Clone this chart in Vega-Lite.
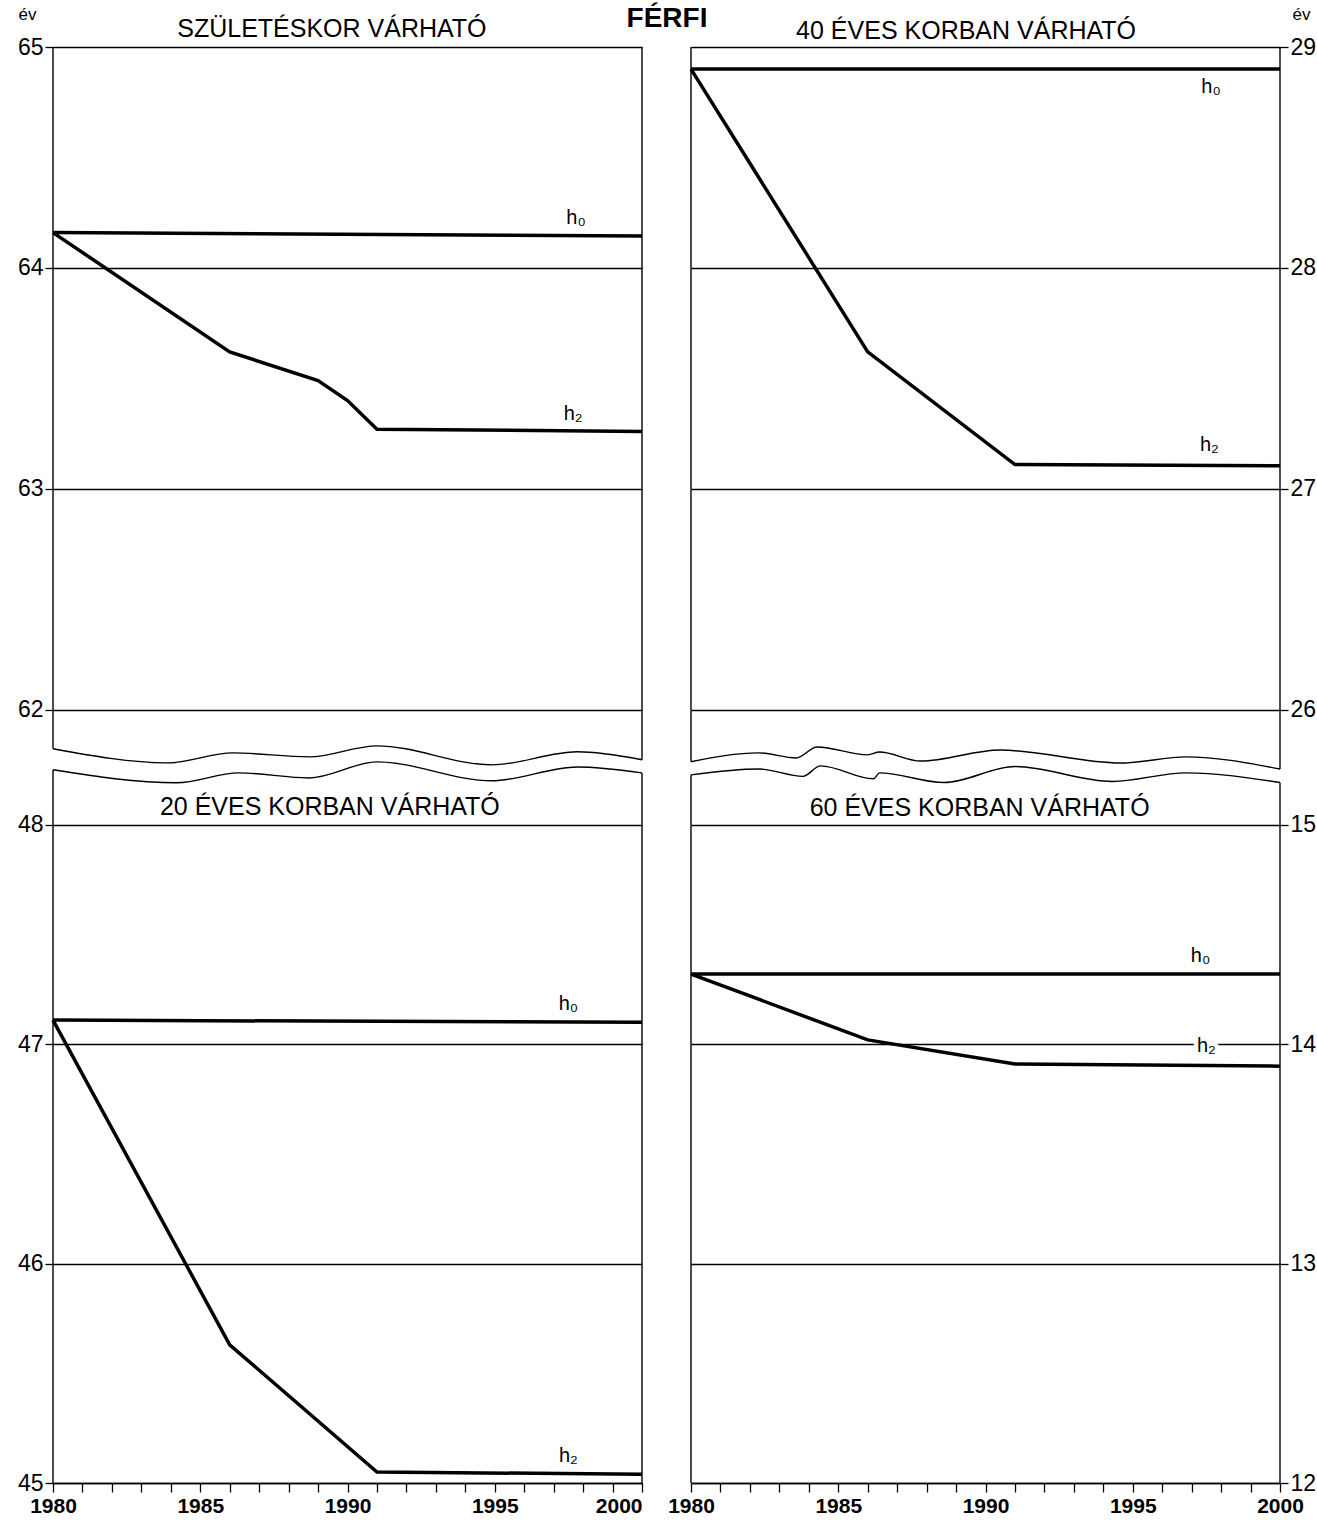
{
  "$schema": "https://vega.github.io/schema/vega-lite/v6.json",
  "background": "white",
  "padding": {"left": 17, "right": 0, "top": 5, "bottom": 5},
  "config": {
    "font": "Liberation Sans",
    "view": {"stroke": null},
    "axis": {"labelColor": "black", "tickColor": "black", "titleColor": "black", "labelFont": "Liberation Sans", "titleFont": "Liberation Sans"},
    "text": {"font": "Liberation Sans", "color": "black"}
  },
  "datasets": {
    "series": [
      {"panel": "TL", "series": "h0", "year": 1980, "value": 64.16},
      {"panel": "TL", "series": "h0", "year": 2000, "value": 64.145},
      {"panel": "TL", "series": "h2", "year": 1980, "value": 64.16},
      {"panel": "TL", "series": "h2", "year": 1986, "value": 63.62},
      {"panel": "TL", "series": "h2", "year": 1989, "value": 63.49},
      {"panel": "TL", "series": "h2", "year": 1990, "value": 63.4},
      {"panel": "TL", "series": "h2", "year": 1991, "value": 63.27},
      {"panel": "TL", "series": "h2", "year": 2000, "value": 63.26},
      {"panel": "TR", "series": "h0", "year": 1980, "value": 28.9},
      {"panel": "TR", "series": "h0", "year": 2000, "value": 28.9},
      {"panel": "TR", "series": "h2", "year": 1980, "value": 28.9},
      {"panel": "TR", "series": "h2", "year": 1986, "value": 27.62},
      {"panel": "TR", "series": "h2", "year": 1991, "value": 27.11},
      {"panel": "TR", "series": "h2", "year": 2000, "value": 27.105},
      {"panel": "BL", "series": "h0", "year": 1980, "value": 47.11},
      {"panel": "BL", "series": "h0", "year": 2000, "value": 47.1},
      {"panel": "BL", "series": "h2", "year": 1980, "value": 47.11},
      {"panel": "BL", "series": "h2", "year": 1986, "value": 45.63},
      {"panel": "BL", "series": "h2", "year": 1991, "value": 45.05},
      {"panel": "BL", "series": "h2", "year": 2000, "value": 45.04},
      {"panel": "BR", "series": "h0", "year": 1980, "value": 14.32},
      {"panel": "BR", "series": "h0", "year": 2000, "value": 14.32},
      {"panel": "BR", "series": "h2", "year": 1980, "value": 14.32},
      {"panel": "BR", "series": "h2", "year": 1986, "value": 14.02},
      {"panel": "BR", "series": "h2", "year": 1991, "value": 13.91},
      {"panel": "BR", "series": "h2", "year": 2000, "value": 13.9}
    ],
    "waves": [
      {"panel": "TL", "year": 1980, "value": 61.824},
      {"panel": "TL", "year": 1983.9, "value": 61.76},
      {"panel": "TL", "year": 1986.1, "value": 61.805},
      {"panel": "TL", "year": 1988.7, "value": 61.787},
      {"panel": "TL", "year": 1991, "value": 61.837},
      {"panel": "TL", "year": 1994.9, "value": 61.751},
      {"panel": "TL", "year": 1997.8, "value": 61.81},
      {"panel": "TL", "year": 2000, "value": 61.774},
      {"panel": "BL", "year": 1980, "value": 48.251},
      {"panel": "BL", "year": 1984.2, "value": 48.192},
      {"panel": "BL", "year": 1986.3, "value": 48.237},
      {"panel": "BL", "year": 1988.7, "value": 48.214},
      {"panel": "BL", "year": 1991, "value": 48.287},
      {"panel": "BL", "year": 1994.9, "value": 48.201},
      {"panel": "BL", "year": 1997.8, "value": 48.264},
      {"panel": "BL", "year": 2000, "value": 48.237},
      {"panel": "TR", "year": 1980, "value": 25.765},
      {"panel": "TR", "year": 1982.3, "value": 25.805},
      {"panel": "TR", "year": 1983.57, "value": 25.782},
      {"panel": "TR", "year": 1984.28, "value": 25.832},
      {"panel": "TR", "year": 1986.0, "value": 25.796},
      {"panel": "TR", "year": 1986.4, "value": 25.809},
      {"panel": "TR", "year": 1987.8, "value": 25.768},
      {"panel": "TR", "year": 1990.5, "value": 25.818},
      {"panel": "TR", "year": 1994.6, "value": 25.759},
      {"panel": "TR", "year": 1996.8, "value": 25.787},
      {"panel": "TR", "year": 2000, "value": 25.732},
      {"panel": "BR", "year": 1980, "value": 15.228},
      {"panel": "BR", "year": 1982.3, "value": 15.255},
      {"panel": "BR", "year": 1983.8, "value": 15.221},
      {"panel": "BR", "year": 1984.4, "value": 15.269},
      {"panel": "BR", "year": 1986.2, "value": 15.21},
      {"panel": "BR", "year": 1986.4, "value": 15.237},
      {"panel": "BR", "year": 1988.6, "value": 15.193},
      {"panel": "BR", "year": 1991, "value": 15.266},
      {"panel": "BR", "year": 1994.3, "value": 15.198},
      {"panel": "BR", "year": 1996.8, "value": 15.237},
      {"panel": "BR", "year": 2000, "value": 15.193}
    ],
    "borders": [
      {"panel": "TL", "year": 1980, "value": 61.824, "value2": 65},
      {"panel": "TL", "year": 2000, "value": 61.774, "value2": 65},
      {"panel": "TR", "year": 1980, "value": 25.765, "value2": 29},
      {"panel": "TR", "year": 2000, "value": 25.732, "value2": 29},
      {"panel": "BL", "year": 1980, "value": 45, "value2": 48.251},
      {"panel": "BL", "year": 2000, "value": 45, "value2": 48.237},
      {"panel": "BR", "year": 1980, "value": 12, "value2": 15.228},
      {"panel": "BR", "year": 2000, "value": 12, "value2": 15.193}
    ],
    "hlabels": [
      {"panel": "TL", "label": "h₀", "year": 1997.76, "value": 64.2, "halo": false},
      {"panel": "TL", "label": "h₂", "year": 1997.66, "value": 63.312, "halo": false},
      {"panel": "TR", "label": "h₀", "year": 1997.66, "value": 28.79, "halo": false},
      {"panel": "TR", "label": "h₂", "year": 1997.6, "value": 27.173, "halo": false},
      {"panel": "BL", "label": "h₀", "year": 1997.5, "value": 47.155, "halo": false},
      {"panel": "BL", "label": "h₂", "year": 1997.5, "value": 45.096, "halo": false},
      {"panel": "BR", "label": "h₀", "year": 1997.3, "value": 14.374, "halo": false},
      {"panel": "BR", "label": "h₂", "year": 1997.5, "value": 13.964, "halo": true}
    ],
    "titles": [
      {"panel": "TL", "label": "SZÜLETÉSKOR VÁRHATÓ", "year": 1989.47, "value": 65.045},
      {"panel": "TR", "label": "40 ÉVES KORBAN VÁRHATÓ", "year": 1989.34, "value": 29.035},
      {"panel": "BL", "label": "20 ÉVES KORBAN VÁRHATÓ", "year": 1989.4, "value": 48.046},
      {"panel": "BR", "label": "60 ÉVES KORBAN VÁRHATÓ", "year": 1989.8, "value": 15.04}
    ],
    "main": [
      {"panel": "TL", "label": "FÉRFI", "year": 2000.85, "value": 65.09}
    ]
  },
  "bounds": "flush",
  "spacing": {"row": 27, "column": 49},
  "columns": 2,
  "concat": [
    {
      "width": 589, "height": 707,
      "encoding": {
        "x": {"field": "year", "type": "quantitative", "scale": {"domain": [1980, 2000], "nice": false, "zero": false}, "axis": null},
        "y": {"field": "value", "type": "quantitative", "scale": {"domain": [61.8, 65], "nice": false, "zero": false},
          "axis": {"values": [62, 63, 64, 65], "format": "d", "title": "év", "titleAngle": 0, "titleAlign": "center", "titleBaseline": "alphabetic", "titleX": -26, "titleY": -28, "titleFontSize": 17, "titleFontWeight": "normal", "tickSize": 8, "tickWidth": 1.3, "labelPadding": 2, "labelFontSize": 23, "grid": true, "gridColor": "black", "gridWidth": 1.4, "gridOpacity": 1, "domain": false}}
      },
      "layer": [
        {"data": {"name": "waves"}, "transform": [{"filter": "datum.panel === 'TL'"}], "mark": {"type": "line", "color": "black", "strokeWidth": 1.4, "interpolate": "monotone"}},
        {"data": {"name": "borders"}, "transform": [{"filter": "datum.panel === 'TL'"}], "mark": {"type": "rule", "color": "black", "strokeWidth": 1.4}, "encoding": {"y2": {"field": "value2"}}},
        {"data": {"name": "series"}, "transform": [{"filter": "datum.panel === 'TL'"}], "mark": {"type": "line", "color": "black", "strokeWidth": 3.5}, "encoding": {"detail": {"field": "series"}}},
        {"data": {"name": "hlabels"}, "transform": [{"filter": "datum.panel === 'TL'"}], "mark": {"type": "text", "fontSize": 20, "align": "center", "baseline": "alphabetic"}, "encoding": {"text": {"field": "label"}}},
        {"data": {"name": "titles"}, "transform": [{"filter": "datum.panel === 'TL'"}], "mark": {"type": "text", "fontSize": 25, "align": "center", "baseline": "alphabetic"}, "encoding": {"text": {"field": "label"}}},
        {"data": {"name": "main"}, "mark": {"type": "text", "fontSize": 28, "fontWeight": "bold", "align": "center", "baseline": "alphabetic"}, "encoding": {"text": {"field": "label"}}}
      ]
    },
    {
      "width": 589, "height": 707,
      "encoding": {
        "x": {"field": "year", "type": "quantitative", "scale": {"domain": [1980, 2000], "nice": false, "zero": false}, "axis": null},
        "y": {"field": "value", "type": "quantitative", "scale": {"domain": [25.8, 29], "nice": false, "zero": false},
          "axis": {"orient": "right", "values": [26, 27, 28, 29], "format": "d", "title": "év", "titleAngle": 0, "titleAlign": "center", "titleBaseline": "alphabetic", "titleX": 21, "titleY": -28, "titleFontSize": 17, "titleFontWeight": "normal", "tickSize": 8, "tickWidth": 1.3, "labelPadding": 2, "labelFontSize": 23, "grid": true, "gridColor": "black", "gridWidth": 1.4, "gridOpacity": 1, "domain": false}}
      },
      "layer": [
        {"data": {"name": "waves"}, "transform": [{"filter": "datum.panel === 'TR'"}], "mark": {"type": "line", "color": "black", "strokeWidth": 1.4, "interpolate": "monotone"}},
        {"data": {"name": "borders"}, "transform": [{"filter": "datum.panel === 'TR'"}], "mark": {"type": "rule", "color": "black", "strokeWidth": 1.4}, "encoding": {"y2": {"field": "value2"}}},
        {"data": {"name": "series"}, "transform": [{"filter": "datum.panel === 'TR'"}], "mark": {"type": "line", "color": "black", "strokeWidth": 3.5}, "encoding": {"detail": {"field": "series"}}},
        {"data": {"name": "hlabels"}, "transform": [{"filter": "datum.panel === 'TR'"}], "mark": {"type": "text", "fontSize": 20, "align": "center", "baseline": "alphabetic"}, "encoding": {"text": {"field": "label"}}},
        {"data": {"name": "titles"}, "transform": [{"filter": "datum.panel === 'TR'"}], "mark": {"type": "text", "fontSize": 25, "align": "center", "baseline": "alphabetic"}, "encoding": {"text": {"field": "label"}}}
      ]
    },
    {
      "width": 589, "height": 702,
      "encoding": {
        "x": {"field": "year", "type": "quantitative", "scale": {"domain": [1980, 2000], "nice": false, "zero": false},
          "axis": {"values": [1980, 1981, 1982, 1983, 1984, 1985, 1986, 1987, 1988, 1989, 1990, 1991, 1992, 1993, 1994, 1995, 1996, 1997, 1998, 1999, 2000], "format": "d", "labelExpr": "datum.value % 5 === 0 ? datum.label : ''", "labelAlign": {"condition": {"test": "datum.value === 2000", "value": "right"}, "value": "center"}, "labelFlush": false, "labelOverlap": false, "tickSize": 9, "tickWidth": 1.3, "labelPadding": 3, "labelFontSize": 21, "labelFontWeight": "bold", "domain": true, "domainColor": "black", "domainWidth": 1.4, "grid": false, "title": null}},
        "y": {"field": "value", "type": "quantitative", "scale": {"domain": [45, 48.2], "nice": false, "zero": false},
          "axis": {"values": [45, 46, 47, 48], "format": "d", "title": null, "tickSize": 8, "tickWidth": 1.3, "labelPadding": 2, "labelFontSize": 23, "grid": true, "gridColor": "black", "gridWidth": 1.4, "gridOpacity": 1, "domain": false}}
      },
      "layer": [
        {"data": {"name": "waves"}, "transform": [{"filter": "datum.panel === 'BL'"}], "mark": {"type": "line", "color": "black", "strokeWidth": 1.4, "interpolate": "monotone"}},
        {"data": {"name": "borders"}, "transform": [{"filter": "datum.panel === 'BL'"}], "mark": {"type": "rule", "color": "black", "strokeWidth": 1.4}, "encoding": {"y2": {"field": "value2"}}},
        {"data": {"name": "series"}, "transform": [{"filter": "datum.panel === 'BL'"}], "mark": {"type": "line", "color": "black", "strokeWidth": 3.5}, "encoding": {"detail": {"field": "series"}}},
        {"data": {"name": "hlabels"}, "transform": [{"filter": "datum.panel === 'BL'"}], "mark": {"type": "text", "fontSize": 20, "align": "center", "baseline": "alphabetic"}, "encoding": {"text": {"field": "label"}}},
        {"data": {"name": "titles"}, "transform": [{"filter": "datum.panel === 'BL'"}], "mark": {"type": "text", "fontSize": 25, "align": "center", "baseline": "alphabetic"}, "encoding": {"text": {"field": "label"}}}
      ]
    },
    {
      "width": 589, "height": 702,
      "encoding": {
        "x": {"field": "year", "type": "quantitative", "scale": {"domain": [1980, 2000], "nice": false, "zero": false},
          "axis": {"values": [1980, 1981, 1982, 1983, 1984, 1985, 1986, 1987, 1988, 1989, 1990, 1991, 1992, 1993, 1994, 1995, 1996, 1997, 1998, 1999, 2000], "format": "d", "labelExpr": "datum.value % 5 === 0 ? datum.label : ''", "labelFlush": false, "labelOverlap": false, "tickSize": 9, "tickWidth": 1.3, "labelPadding": 3, "labelFontSize": 21, "labelFontWeight": "bold", "domain": true, "domainColor": "black", "domainWidth": 1.4, "grid": false, "title": null}},
        "y": {"field": "value", "type": "quantitative", "scale": {"domain": [12, 15.2], "nice": false, "zero": false},
          "axis": {"orient": "right", "values": [12, 13, 14, 15], "format": "d", "title": null, "tickSize": 8, "tickWidth": 1.3, "labelPadding": 2, "labelFontSize": 23, "grid": true, "gridColor": "black", "gridWidth": 1.4, "gridOpacity": 1, "domain": false}}
      },
      "layer": [
        {"data": {"name": "waves"}, "transform": [{"filter": "datum.panel === 'BR'"}], "mark": {"type": "line", "color": "black", "strokeWidth": 1.4, "interpolate": "monotone"}},
        {"data": {"name": "borders"}, "transform": [{"filter": "datum.panel === 'BR'"}], "mark": {"type": "rule", "color": "black", "strokeWidth": 1.4}, "encoding": {"y2": {"field": "value2"}}},
        {"data": {"name": "series"}, "transform": [{"filter": "datum.panel === 'BR'"}], "mark": {"type": "line", "color": "black", "strokeWidth": 3.5}, "encoding": {"detail": {"field": "series"}}},
        {"data": {"name": "hlabels"}, "transform": [{"filter": "datum.panel === 'BR' && datum.halo"}], "mark": {"type": "text", "fontSize": 20, "align": "center", "baseline": "alphabetic", "stroke": "white", "strokeWidth": 9, "fill": "white"}, "encoding": {"text": {"field": "label"}}},
        {"data": {"name": "hlabels"}, "transform": [{"filter": "datum.panel === 'BR'"}], "mark": {"type": "text", "fontSize": 20, "align": "center", "baseline": "alphabetic"}, "encoding": {"text": {"field": "label"}}},
        {"data": {"name": "titles"}, "transform": [{"filter": "datum.panel === 'BR'"}], "mark": {"type": "text", "fontSize": 25, "align": "center", "baseline": "alphabetic"}, "encoding": {"text": {"field": "label"}}}
      ]
    }
  ]
}
